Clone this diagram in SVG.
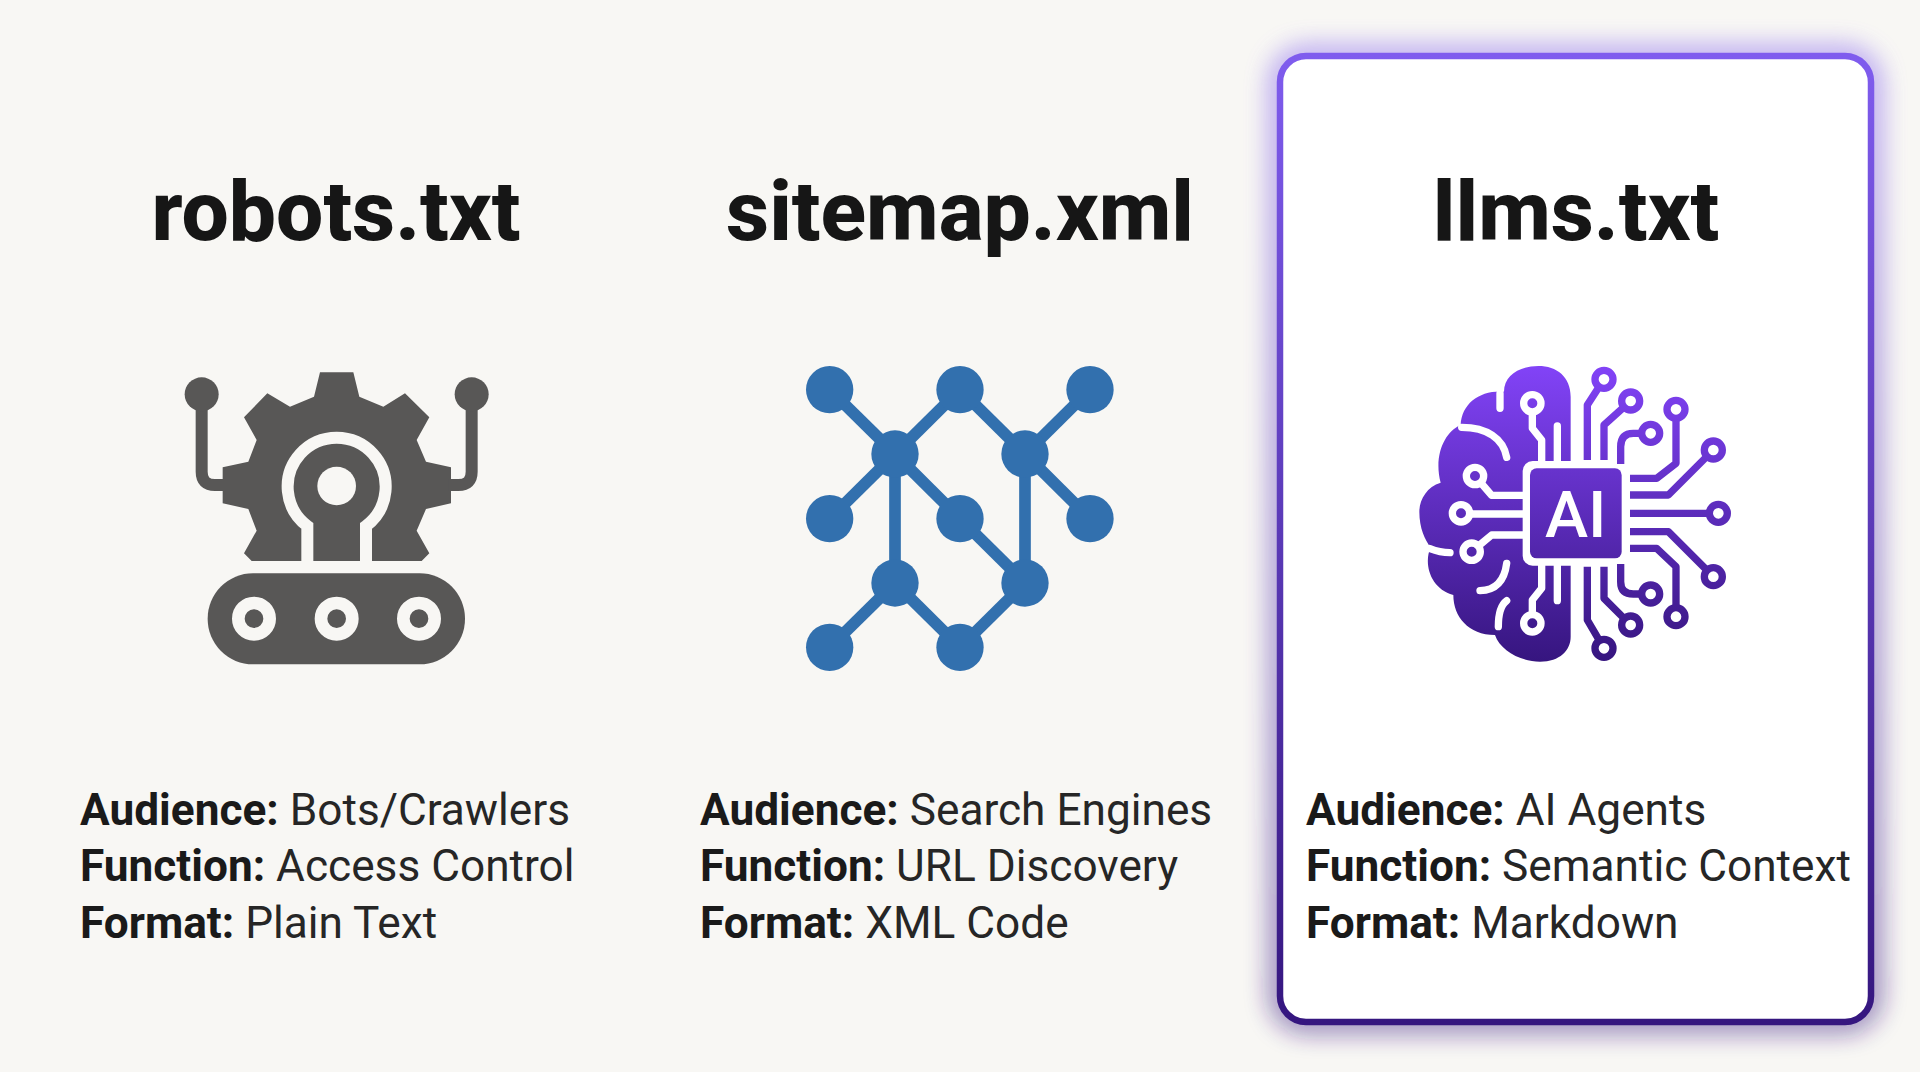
<svg xmlns="http://www.w3.org/2000/svg" width="1920" height="1072" viewBox="0 0 1920 1072">
<style>
.t{font-family:Roboto,"Liberation Sans",sans-serif;font-weight:800;font-size:84px;fill:#161616;text-anchor:middle}
.b{font-family:Roboto,"Liberation Sans",sans-serif;font-size:44.2px;fill:#262626}
.b tspan{font-weight:700;fill:#1a1a1a}
.dk{fill:#585756}
.bg{fill:#f8f7f4}
.net line{stroke:#3270ae;stroke-width:35}
.net circle{fill:#3270ae}
.tr{fill:none;stroke:url(#pg);stroke-width:22;stroke-linejoin:round}
.rg{fill:#fff;stroke:url(#pg);stroke-width:22}
.wl{fill:none;stroke:#fff;stroke-width:22;stroke-linecap:round;stroke-linejoin:round}
.wr{fill:url(#pg);stroke:#fff;stroke-width:22}
</style>
<defs>
<linearGradient id="pg" gradientUnits="userSpaceOnUse" x1="0" y1="78" x2="0" y2="965"><stop offset="0" stop-color="#8243f7"/><stop offset="1" stop-color="#36157f"/></linearGradient>
<linearGradient id="bd" gradientUnits="userSpaceOnUse" x1="0" y1="56" x2="0" y2="1022"><stop offset="0" stop-color="#7f5cee"/><stop offset="1" stop-color="#35167f"/></linearGradient>
<filter id="gl" x="-15%" y="-15%" width="130%" height="130%"><feGaussianBlur stdDeviation="13"/></filter>
</defs>
<rect width="1920" height="1072" class="bg"/>
<g id="card">
<rect x="1280" y="56" width="591" height="966" rx="26" fill="none" stroke="url(#bd)" stroke-width="18" opacity=".65" filter="url(#gl)"/>
<rect x="1280" y="56" width="591" height="966" rx="26" fill="#fff" stroke="url(#bd)" stroke-width="6.5"/>
</g>
<g id="robots">
<text class="t" x="336" y="240">robots.txt</text>
<g transform="translate(150 340) scale(.33333)">
<path class="dk" d="M510 97H610L628 170L700 200L765 160L838 232L800 300L828 365L903 382V490L828 507L800 572L838 640L815 663H305L282 640L320 572L295 507L218 490V382L295 365L320 300L282 232L352 160L420 200L492 170Z"/>
<path fill="none" stroke="#585756" stroke-width="36" d="M155 163V395Q155 435 195 435H225M965 163V395Q965 435 925 435H895"/>
<circle class="dk" cx="155" cy="163" r="51"/><circle class="dk" cx="965" cy="163" r="51"/>
<path fill="none" stroke="#f8f7f4" stroke-width="36" d="M472 690V558A147 147 0 1 1 648 558V690"/>
<circle class="bg" cx="560" cy="438" r="58"/>
<rect class="dk" x="173" y="700" width="772" height="273" rx="136"/>
<g fill="none" stroke="#f8f7f4" stroke-width="38"><circle cx="312" cy="836" r="47"/><circle cx="560" cy="836" r="47"/><circle cx="807" cy="836" r="47"/></g>
</g>
<text class="b" x="80" y="825"><tspan>Audience:</tspan> Bots/Crawlers</text>
<text class="b" x="80" y="881"><tspan>Function:</tspan> Access Control</text>
<text class="b" x="80" y="937.5"><tspan>Format:</tspan> Plain Text</text>
</g>
<g id="sitemap">
<text class="t" x="960" y="240">sitemap.xml</text>
<g class="net" transform="translate(780 340) scale(.33333)">
<line x1="149" y1="149" x2="345" y2="342"/><line x1="540" y1="149" x2="345" y2="342"/><line x1="540" y1="149" x2="735" y2="342"/><line x1="930" y1="149" x2="735" y2="342"/><line x1="149" y1="536" x2="345" y2="342"/><line x1="345" y1="342" x2="345" y2="729"/><line x1="345" y1="342" x2="540" y2="536"/><line x1="540" y1="536" x2="735" y2="729"/><line x1="735" y1="342" x2="735" y2="729"/><line x1="735" y1="342" x2="930" y2="536"/><line x1="345" y1="729" x2="149" y2="922"/><line x1="345" y1="729" x2="540" y2="922"/><line x1="735" y1="729" x2="540" y2="922"/>
<circle cx="149" cy="149" r="71"/><circle cx="540" cy="149" r="71"/><circle cx="930" cy="149" r="71"/><circle cx="345" cy="342" r="71"/><circle cx="735" cy="342" r="71"/><circle cx="149" cy="536" r="71"/><circle cx="540" cy="536" r="71"/><circle cx="930" cy="536" r="71"/><circle cx="345" cy="729" r="71"/><circle cx="735" cy="729" r="71"/><circle cx="149" cy="922" r="71"/><circle cx="540" cy="922" r="71"/>
</g>
<text class="b" x="700" y="825"><tspan>Audience:</tspan> Search Engines</text>
<text class="b" x="700" y="881"><tspan>Function:</tspan> URL Discovery</text>
<text class="b" x="700" y="937.5"><tspan>Format:</tspan> XML Code</text>
</g>
<g id="llms">
<text class="t" x="1576" y="240">llms.txt</text>
<g transform="translate(1400 340) scale(.33333)">
<path fill="url(#pg)" d="M512 170C512 110 470 78 415 78C360 78 312 105 312 155C240 150 185 190 182 255C135 275 100 345 122 428C80 440 58 480 58 515C58 565 75 600 92 622C70 670 90 745 160 765C160 830 205 885 285 885C300 930 360 965 420 965C480 965 512 930 512 890Z"/>
<g class="wl">
<path d="M300 160V205M185 262C260 262 310 295 320 352M90 626Q120 638 150 638M240 752Q310 750 320 670M320 782Q295 800 295 860"/>
<path d="M397 190V265L425 300V370M472 258V370M397 850V780L425 745V670M472 782V670M225 408L275 466H370M183 522H370M215 635L275 585H370"/>
</g>
<circle class="wr" cx="397" cy="190" r="26"/><circle class="wr" cx="397" cy="850" r="26"/><circle class="wr" cx="225" cy="408" r="26"/><circle class="wr" cx="183" cy="520" r="26"/><circle class="wr" cx="215" cy="635" r="26"/>
<rect x="368" y="363" width="320" height="314" rx="30" fill="#fff"/>
<rect x="390" y="385" width="275" height="270" rx="20" fill="url(#pg)"/>
<text x="527" y="590" font-family="Roboto,'Liberation Sans',sans-serif" font-weight="500" font-size="195" fill="#fff" text-anchor="middle">AI</text>
<path class="tr" d="M612 118L562 195V360M692 183L612 255V360M752 280H700Q662 280 662 320V372M828 208V370L770 415H690M940 330L805 465H690M955 520H690M940 710L805 575H690M828 830V680L770 625H690M752 762H700Q662 762 662 725V672M692 855L612 775V680M612 925L562 840V680"/>
<circle class="rg" cx="612" cy="118" r="27"/><circle class="rg" cx="692" cy="183" r="27"/><circle class="rg" cx="752" cy="280" r="27"/><circle class="rg" cx="828" cy="208" r="27"/><circle class="rg" cx="940" cy="330" r="27"/><circle class="rg" cx="955" cy="520" r="27"/><circle class="rg" cx="940" cy="710" r="27"/><circle class="rg" cx="828" cy="830" r="27"/><circle class="rg" cx="752" cy="762" r="27"/><circle class="rg" cx="692" cy="855" r="27"/><circle class="rg" cx="612" cy="925" r="27"/>
</g>
<text class="b" x="1306" y="825"><tspan>Audience:</tspan> AI Agents</text>
<text class="b" x="1306" y="881"><tspan>Function:</tspan> Semantic Context</text>
<text class="b" x="1306" y="937.5"><tspan>Format:</tspan> Markdown</text>
</g>
</svg>
